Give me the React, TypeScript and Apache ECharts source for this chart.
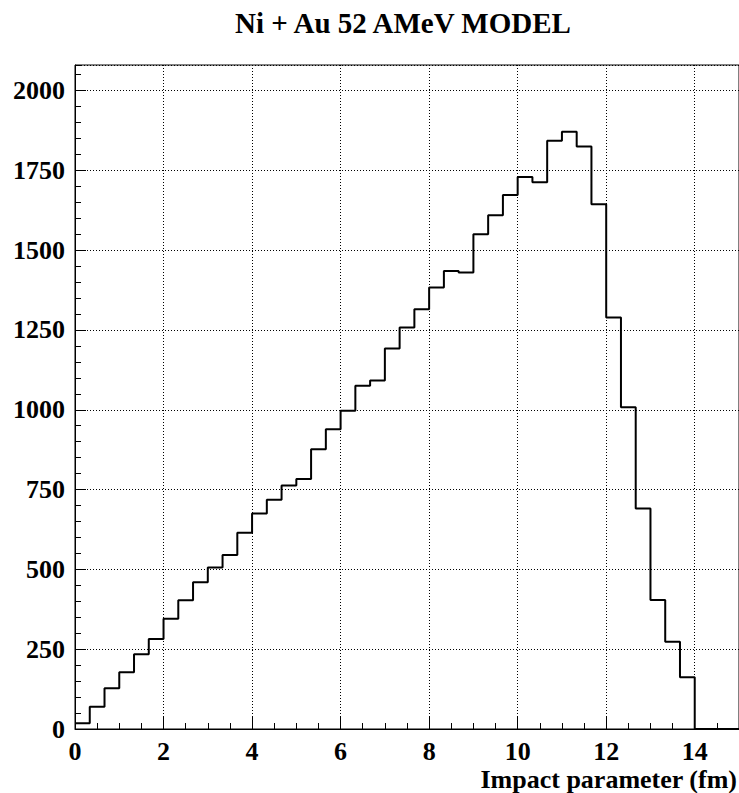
import React, { useEffect, useRef } from "react";
import * as echarts from "echarts";

const titleText = "Ni + Au 52 AMeV MODEL";
const xAxisTitle = "Impact parameter (fm)";
const binWidth = 1 / 3; // fm
const binValues = [
  18, 70, 128, 178, 234, 282, 345, 403, 460, 506,
  545, 615, 675, 718, 763, 783, 876, 939, 997, 1075,
  1092, 1192, 1258, 1315, 1383, 1435, 1430, 1550, 1609, 1673,
  1729, 1713, 1843, 1871, 1825, 1644, 1289, 1008, 691, 404,
  273, 162, 0, 0, 0,
];
const xMin = 0;
const xMax = 15;
const xTickInterval = 2;
const xMinorInterval = 0.5;
const yMin = 0;
const yMax = 2080;
const yTickInterval = 250;
const yMinorInterval = 50;

const FONT = "Liberation Serif";

export default function App() {
  const ref = useRef<HTMLDivElement>(null);
  useEffect(() => {
    if (!ref.current) return;
    const chart = echarts.init(ref.current, undefined, { renderer: "svg" });
    const data: number[][] = binValues.map((v, i) => [i * binWidth, v]);
    data.push([binValues.length * binWidth, binValues[binValues.length - 1]]);

    const gridLeft = 75;
    const gridTop = 65;
    const gridW = 665;
    const gridH = 664;

    chart.setOption({
      animation: false,
      backgroundColor: "#fff",
      grid: {
        left: gridLeft,
        top: gridTop,
        width: gridW,
        height: gridH,
        show: true,
        borderColor: "#000",
        borderWidth: 1,
        backgroundColor: "transparent",
      },
      graphic: [
        {
          type: "text",
          x: 403,
          y: 23,
          style: {
            text: titleText,
            font: `bold 29px "${FONT}"`,
            fill: "#000",
            align: "center",
            verticalAlign: "middle",
          },
        },
        {
          type: "text",
          x: 737,
          y: 779,
          style: {
            text: xAxisTitle,
            font: `bold 26px "${FONT}"`,
            fill: "#000",
            align: "right",
            verticalAlign: "middle",
          },
        },
      ],
      xAxis: [
        {
          type: "value",
          position: "bottom",
          min: xMin,
          max: xMax,
          interval: xTickInterval,
          axisLine: { show: true, onZero: false, lineStyle: { color: "#000", width: 1 } },
          axisTick: { show: true, inside: true, length: 12, lineStyle: { color: "#000", width: 1 } },
          axisLabel: {
            show: true,
            showMaxLabel: false,
            margin: 9,
            color: "#000",
            fontFamily: FONT,
            fontWeight: "bold",
            fontSize: 26,
            formatter: (v: number) => String(v),
          },
          splitLine: { show: true, lineStyle: { color: "#000", width: 1, type: [1, 2] } },
        },
        {
          type: "value",
          position: "bottom",
          min: xMin,
          max: xMax,
          interval: xMinorInterval,
          axisLine: { show: false, onZero: false },
          axisTick: { show: true, inside: true, length: 6, lineStyle: { color: "#000", width: 1 } },
          axisLabel: { show: false },
          splitLine: { show: false },
        },
      ],
      yAxis: [
        {
          type: "value",
          position: "left",
          min: yMin,
          max: yMax,
          interval: yTickInterval,
          axisLine: { show: true, onZero: false, lineStyle: { color: "#000", width: 1 } },
          axisTick: { show: true, inside: true, length: 11, lineStyle: { color: "#000", width: 1 } },
          axisLabel: {
            show: true,
            showMaxLabel: false,
            margin: 10,
            color: "#000",
            fontFamily: FONT,
            fontWeight: "bold",
            fontSize: 26,
            formatter: (v: number) => String(v),
          },
          splitLine: { show: true, lineStyle: { color: "#000", width: 1, type: [1, 2] } },
        },
        {
          type: "value",
          position: "left",
          min: yMin,
          max: yMax,
          interval: yMinorInterval,
          axisLine: { show: false, onZero: false },
          axisTick: { show: true, inside: true, length: 6, lineStyle: { color: "#000", width: 1 } },
          axisLabel: { show: false },
          splitLine: { show: false },
        },
      ],
      series: [
        {
          type: "line",
          xAxisIndex: 0,
          yAxisIndex: 0,
          step: "end",
          symbol: "none",
          data,
          lineStyle: { color: "#000", width: 2 },
          clip: true,
        },
      ],
    });
    return () => chart.dispose();
  }, []);
  return (
    <div
      ref={ref}
      style={{ position: "fixed", left: 0, top: 0, width: 739, height: 793 }}
    />
  );
}
